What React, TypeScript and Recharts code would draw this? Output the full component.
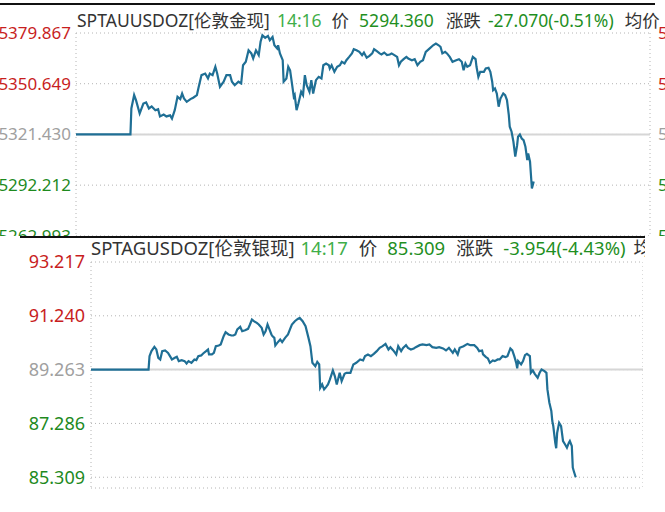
import { LineChart, Line, XAxis, YAxis, CartesianGrid, ReferenceLine } from "recharts"

const FONT = '"Noto Sans", "Noto Sans CJK SC", sans-serif'
const LINE_COLOR = "#1f6f95"
const UP = "#c81e1e"
const DOWN = "#1e8a1e"
const FLAT = "#a0a0a0"

// minutes since 06:00, one gridline every 2 hours
const hourTicks = [0, 120, 240, 360, 480, 600]

// gold (SPTAUUSDOZ)
const goldTitle = { name: "SPTAUUSDOZ[伦敦金现]", time: "14:16", price: "5294.360", change: "-27.070(-0.51%)" }
const goldBase = 5321.43
const goldTicks = [5262.993, 5292.212, 5321.43, 5350.649, 5379.867]
const goldMinutes = [
  0, 59, 60, 63, 65, 69, 73, 76, 79, 82, 86, 89, 91, 95, 98, 102, 104, 107, 110, 113, 115, 117, 120, 124, 127,
  131, 133, 136, 140, 143, 145, 148, 151, 153, 156, 160, 163, 167, 169, 172, 176, 179, 181, 184, 187, 190, 192,
  195, 198, 200, 202, 205, 208, 210, 213, 215, 218, 219, 221, 224, 225, 228, 230, 232, 234, 236, 237, 239, 241,
  244, 246, 248, 250, 253, 255, 257, 260, 263, 266, 268, 271, 274, 275, 277, 280, 283, 286, 288, 291, 293, 296,
  299, 301, 304, 307, 310, 312, 315, 318, 321, 323, 326, 329, 331, 334, 337, 340, 342, 345, 348, 350, 352, 355,
  358, 360, 364, 367, 370, 373, 376, 379, 383, 387, 390, 393, 395, 397, 400, 402, 405, 408, 412, 415, 418, 420,
  422, 424, 427, 430, 433, 434, 436, 438, 442, 444, 447, 449, 451, 452, 454, 456, 458, 460, 461, 463, 465, 467,
  469, 470, 472, 474, 476, 478, 479, 481, 483, 485, 487, 489, 490, 492, 494, 496,
]
const goldPrices = [
  5321.43, 5321.43, 5336.4, 5344.1, 5341.2, 5333.5, 5339.2, 5339.9, 5336.4, 5337.6, 5335.4, 5336.0, 5331.8,
  5332.9, 5331.8, 5332.4, 5330.6, 5335.4, 5343.1, 5341.8, 5345.0, 5342.2, 5340.2, 5341.8, 5342.6,
  5344.1, 5348.9, 5355.6, 5356.5, 5353.7, 5356.5, 5355.6, 5360.4, 5356.5, 5348.9, 5351.8, 5355.6, 5355.6,
  5351.8, 5349.8, 5351.8, 5350.8, 5361.3, 5363.3, 5369.9, 5368.1, 5365.2,
  5369.9, 5367.1, 5374.8, 5378.6, 5377.1, 5378.2, 5375.7, 5377.6, 5372.8, 5370.9, 5372.8, 5368.1, 5364.2,
  5351.8, 5353.7, 5360.4, 5358.4, 5350.8, 5343.1, 5344.1, 5335.4, 5339.2,
  5346.0, 5344.1, 5355.6, 5349.8, 5346.0, 5352.7, 5345.0, 5352.7, 5354.6, 5353.7, 5361.3, 5362.3, 5361.3,
  5359.4, 5361.3, 5357.5, 5360.4, 5361.3, 5363.3, 5362.3, 5364.2, 5366.1,
  5368.1, 5370.5, 5369.9, 5369.0, 5367.1, 5368.6, 5365.6, 5366.7, 5368.1, 5370.5, 5369.4, 5368.1, 5367.5,
  5368.6, 5367.1, 5367.5, 5368.1, 5367.1, 5366.1, 5361.3, 5363.3, 5364.8,
  5366.1, 5365.2, 5364.2, 5364.8, 5361.3, 5363.3, 5364.2, 5369.0, 5370.9, 5372.8, 5373.8, 5372.8, 5371.9,
  5368.1, 5369.0, 5368.1, 5366.1, 5363.3, 5364.2, 5364.8, 5363.3, 5358.4,
  5362.3, 5360.4, 5361.3, 5366.1, 5364.8, 5360.4, 5354.6, 5357.5, 5357.5, 5359.4, 5359.8, 5357.5, 5351.8,
  5346.9, 5347.9, 5345.0, 5337.4, 5342.2, 5343.1, 5345.0, 5344.1, 5341.2,
  5332.5, 5325.9, 5323.0, 5317.2, 5308.6, 5315.2, 5320.1, 5321.4, 5319.1, 5318.1, 5314.3, 5306.6, 5310.5,
  5305.7, 5290.3, 5294.36,
]

// silver (SPTAGUSDOZ)
const silverTitle = { name: "SPTAGUSDOZ[伦敦银现]", time: "14:17", price: "85.309", change: "-3.954(-4.43%)" }
const silverBase = 89.263
const silverTicks = [85.309, 87.286, 89.263, 91.24, 93.217]
const silverMinutes = [
  0, 59, 60, 62, 65, 67, 69, 71, 73, 76, 79, 81, 83, 86, 88, 90, 93, 96, 98, 100, 103, 106, 108, 110, 113, 115,
  118, 120, 121, 124, 126, 128, 131, 133, 136, 138, 141, 144, 146, 148, 150, 153, 155, 158, 161, 163, 165, 167,
  170, 172, 175, 177, 179, 181, 183, 185, 186, 188, 189, 191, 194, 196, 199, 202, 204, 206, 209, 212, 214, 217,
  220, 223, 225, 227, 230, 232, 234, 235, 237, 239, 241, 243, 245, 248, 250, 252, 255, 257, 260, 262, 266, 269,
  272, 276, 279, 281, 284, 287, 290, 293, 296, 299, 302, 305, 307, 310, 313, 315, 318, 320, 323, 325, 328, 331,
  333, 337, 340, 344, 347, 350, 354, 357, 361, 364, 367, 371, 373, 376, 378, 382, 386, 389, 393, 396, 398, 401,
  402, 405, 407, 409, 412, 414, 417, 419, 422, 425, 427, 430, 432, 434, 436, 437, 438, 441, 443, 445, 447, 450,
  451, 453, 455, 458, 460, 462, 465, 467, 468, 470, 472, 473, 474, 476, 477, 478, 480, 482, 484, 486, 488, 490,
  491, 493, 494, 495, 497,
]
const silverPrices = [
  89.263, 89.263, 89.758, 89.942, 90.099, 90.004, 89.696, 89.637, 89.942, 89.967, 89.879, 89.758, 89.637,
  89.696, 89.733, 89.575, 89.611, 89.575, 89.49, 89.575, 89.512, 89.637, 89.611, 89.758, 89.784, 89.857,
  89.942, 90.004, 89.821, 89.821, 89.879, 90.125, 90.151, 90.187, 90.492, 90.639, 90.554, 90.517, 90.517,
  90.554, 90.738, 90.833, 90.675, 90.712, 90.76, 90.921, 91.104, 91.042,
  90.98, 90.921, 90.796, 90.554, 90.675, 90.921, 90.738, 90.554, 90.492, 90.429, 90.151, 90.246, 90.371,
  90.272, 90.429, 90.554, 90.738, 90.921, 91.042, 91.126, 91.163, 91.042,
  90.859, 90.429, 90.125, 89.512, 89.391, 89.549, 89.454, 88.595, 88.72, 88.537, 88.621, 88.72, 88.904,
  89.234, 89.025, 88.72, 89.146, 88.841, 89.109, 89.146, 89.146, 89.454,
  89.512, 89.637, 89.6, 89.758, 89.821, 89.758, 89.843, 89.942, 90.063, 90.125, 90.209, 90.004, 90.088,
  89.967, 89.821, 90.125, 89.942, 90.063, 90.162, 90.063, 90.004, 90.041,
  90.088, 90.162, 90.187, 90.162, 90.187, 90.088, 90.063, 90.088, 90.041, 89.967, 90.063, 89.879, 90.004,
  89.821, 90.063, 90.125, 90.209, 90.162, 90.162, 90.063, 89.942, 89.967,
  89.821, 89.722, 89.674, 89.512, 89.6, 89.575, 89.637, 89.637, 89.758, 89.722, 89.758, 90.041, 89.967,
  89.758, 89.512, 89.307, 89.575, 89.454, 89.575, 89.795, 89.843, 89.758,
  89.146, 89.234, 89.109, 88.962, 89.146, 89.27, 89.208, 89.146, 88.537, 88.045, 87.741, 87.374, 87.191,
  86.578, 86.373, 86.945, 87.312, 87.191, 86.64, 86.519, 86.395, 86.578,
  86.64, 86.457, 85.661, 85.54, 85.309,
]

const goldData = goldMinutes.map((t, i) => ({ t, price: goldPrices[i] }))
const silverData = silverMinutes.map((t, i) => ({ t, price: silverPrices[i] }))

const lowEdge = (ticks: number[]) => ticks[0] - (ticks[1] - ticks[0]) * 0.2

function makeTick(base: number, size: number) {
  return (props: any) => {
    const { x, y, payload, textAnchor } = props
    const v = payload.value
    const color = Math.abs(v - base) < 1e-6 ? FLAT : v > base ? UP : DOWN
    return (
      <text x={x} y={y} dy="0.355em" textAnchor={textAnchor} fill={color} fontSize={size} fontFamily={FONT}>
        {v.toFixed(3)}
      </text>
    )
  }
}

function Title({
  info,
  left,
  top,
  size,
  gaps,
}: {
  info: typeof goldTitle
  left: number
  top: number
  size: number
  gaps: number[]
}) {
  return (
    <div
      style={{
        position: "absolute",
        left,
        top,
        whiteSpace: "nowrap",
        fontSize: size,
        lineHeight: "22px",
        color: "#333",
        zIndex: 2,
      }}
    >
      <span>{info.name}</span>
      <span style={{ color: "#3fae49", marginLeft: gaps[0] }}>{info.time}</span>
      <span style={{ marginLeft: gaps[1] }}>价</span>
      <span style={{ color: "#1f8f1f", marginLeft: gaps[2] }}>{info.price}</span>
      <span style={{ marginLeft: gaps[3] }}>涨跌</span>
      <span style={{ color: "#1f8f1f", marginLeft: gaps[4] }}>{info.change}</span>
      <span style={{ marginLeft: gaps[5] }}>均价</span>
    </div>
  )
}

export default function App() {
  return (
    <div
      style={{
        position: "absolute",
        left: 0,
        top: 0,
        width: 665,
        height: 512,
        overflow: "hidden",
        background: "#fff",
        fontFamily: FONT,
      }}
    >
      {/* gold panel */}
      <div style={{ position: "absolute", left: 0, top: 0, width: 665, height: 236, overflow: "hidden" }}>
        <div style={{ position: "absolute", left: 0, top: 3, width: 655, height: 2, background: "#111" }} />
        <Title info={goldTitle} left={77} top={9} size={17.5} gaps={[7, 10, 10, 12, 7, 11]} />
        <div style={{ position: "absolute", left: 0, top: 0 }}>
          <LineChart width={760} height={250} data={goldData} margin={{ top: 33, right: 0, bottom: 4, left: 0 }}>
            <CartesianGrid yAxisId="p" stroke="#b4b4b4" strokeDasharray="1 3" />
            <XAxis
              dataKey="t"
              type="number"
              domain={[0, 622]}
              ticks={hourTicks}
              height={0}
              tick={false}
              axisLine={false}
              tickLine={false}
            />
            <YAxis
              yAxisId="p"
              type="number"
              domain={[lowEdge(goldTicks), goldTicks[goldTicks.length - 1]]}
              ticks={goldTicks}
              interval={0}
              width={76}
              axisLine={false}
              tickLine={false}
              tickSize={0}
              tickMargin={5}
              tick={makeTick(goldBase, 17)}
              allowDataOverflow
            />
            <YAxis
              yAxisId="r"
              orientation="right"
              type="number"
              domain={[lowEdge(goldTicks), goldTicks[goldTicks.length - 1]]}
              ticks={goldTicks}
              interval={0}
              width={110}
              axisLine={false}
              tickLine={false}
              tickSize={0}
              tickMargin={8}
              tick={makeTick(goldBase, 17)}
              allowDataOverflow
            />
            <ReferenceLine yAxisId="p" y={goldBase} stroke="#d6d6d6" strokeWidth={2} />
            <Line
              yAxisId="p"
              dataKey="price"
              type="linear"
              stroke={LINE_COLOR}
              strokeWidth={2.2}
              dot={false}
              isAnimationActive={false}
            />
          </LineChart>
        </div>
      </div>

      {/* silver panel */}
      <div
        style={{
          position: "absolute",
          left: 0,
          top: 236,
          width: 645,
          height: 276,
          overflow: "hidden",
          background: "#fff",
        }}
      >
        <div style={{ position: "absolute", left: 20, top: 0, width: 625, height: 2, background: "#111" }} />
        <Title info={silverTitle} left={91} top={1} size={18.5} gaps={[6, 11, 10, 11, 10, 8]} />
        <div style={{ position: "absolute", left: 0, top: 0 }}>
          <LineChart width={643} height={256} data={silverData} margin={{ top: 26, right: 0, bottom: 4, left: 0 }}>
            <CartesianGrid yAxisId="p" stroke="#b4b4b4" strokeDasharray="1 3" />
            <XAxis
              dataKey="t"
              type="number"
              domain={[0, 566]}
              ticks={hourTicks}
              height={0}
              tick={false}
              axisLine={false}
              tickLine={false}
              allowDataOverflow
            />
            <YAxis
              yAxisId="p"
              type="number"
              domain={[lowEdge(silverTicks), silverTicks[silverTicks.length - 1]]}
              ticks={silverTicks}
              interval={0}
              width={91}
              axisLine={false}
              tickLine={false}
              tickSize={0}
              tickMargin={6}
              tick={makeTick(silverBase, 18)}
              allowDataOverflow
            />
            <ReferenceLine yAxisId="p" y={silverBase} stroke="#d6d6d6" strokeWidth={2} />
            <Line
              yAxisId="p"
              dataKey="price"
              type="linear"
              stroke={LINE_COLOR}
              strokeWidth={2.2}
              dot={false}
              isAnimationActive={false}
            />
          </LineChart>
        </div>
      </div>
    </div>
  )
}
